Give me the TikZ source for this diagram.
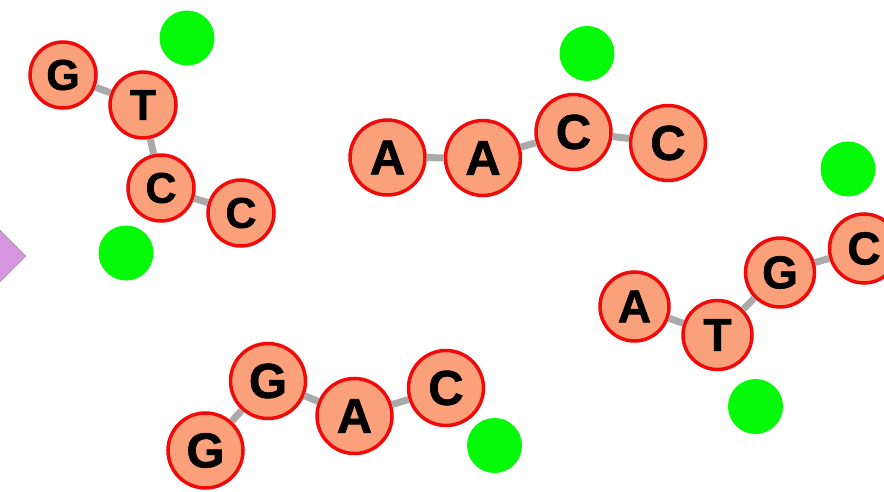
\documentclass[tikz,border=0pt]{standalone}
\usepackage{fontspec}
\setmainfont{Liberation Sans}
\newfontfamily\basefont{Liberation Sans}[BoldFeatures={FakeBold=1.3}]
\usetikzlibrary{shapes.geometric}
\definecolor{salmonfill}{RGB}{250,160,122}
\definecolor{ringred}{RGB}{240,10,10}
\definecolor{dotgreen}{RGB}{5,250,10}
\definecolor{linkgray}{RGB}{170,170,170}
\definecolor{plum}{RGB}{214,150,224}
\tikzset{
  base/.style={circle, draw=ringred, line width=3.5pt, fill=salmonfill, inner sep=0pt, text=black},
  smallbase/.style={base, minimum size=66pt, font=\basefont\bfseries\fontsize{43}{43}\selectfont},
  midbase/.style={base, minimum size=75pt, font=\basefont\bfseries\fontsize{49}{49}\selectfont},
  rightbase/.style={base, minimum size=69pt, font=\basefont\bfseries\fontsize{46}{46}\selectfont},
  dot/.style={circle, fill=dotgreen, draw=none, minimum size=55pt, inner sep=0pt},
  link/.style={draw=linkgray, line width=7pt},
}
\begin{document}
\begin{tikzpicture}[x=1pt,y=-1pt]
\useasboundingbox (0,0) rectangle (884,492);
\clip (0,0) rectangle (884,492);
% purple diamond at left edge
\node[diamond, fill=plum, draw=gray!70, line width=0.6pt, minimum size=110pt, inner sep=0pt] (dia) at (-29,256) {};
% top-left strand
\node[smallbase] (g1) at (63,75) {G};
\node[smallbase] (t1) at (143,105) {T};
\node[smallbase] (c1) at (161,188) {C};
\node[smallbase] (c2) at (241,213) {C};
\node[dot] (d1) at (187,38) {};
\node[dot] (d2) at (126,253) {};
\draw[link] (g1) -- (t1);
\draw[link] (t1) -- (c1);
\draw[link] (c1) -- (c2);
% middle strand
\node[midbase] (a3) at (387.5,157.5) {A};
\node[midbase] (a4) at (483,158) {A};
\node[midbase] (c3) at (573.5,132) {C};
\node[midbase] (c4) at (668,143) {C};
\node[dot] (d3) at (587,53.5) {};
\draw[link] (a3) -- (a4);
\draw[link] (a4) -- (c3);
\draw[link] (c3) -- (c4);
% right strand
\node[rightbase] (a5) at (634.5,306.5) {A};
\node[rightbase] (t5) at (717.5,335) {T};
\node[rightbase] (g5) at (780,272.5) {G};
\node[rightbase] (c5) at (864,248.5) {C};
\node[dot] (d5) at (848,169) {};
\node[dot] (d6) at (755.5,406.5) {};
\draw[link] (a5) -- (t5);
\draw[link] (t5) -- (g5);
\draw[link] (g5) -- (c5);
% bottom strand
\node[midbase] (g7) at (205.5,450.5) {G};
\node[midbase] (g8) at (268,381) {G};
\node[midbase] (a7) at (354.5,416) {A};
\node[midbase] (c7) at (446,388) {C};
\node[dot] (d7) at (494.5,445.5) {};
\draw[link] (g7) -- (g8);
\draw[link] (g8) -- (a7);
\draw[link] (a7) -- (c7);
\end{tikzpicture}
\end{document}
